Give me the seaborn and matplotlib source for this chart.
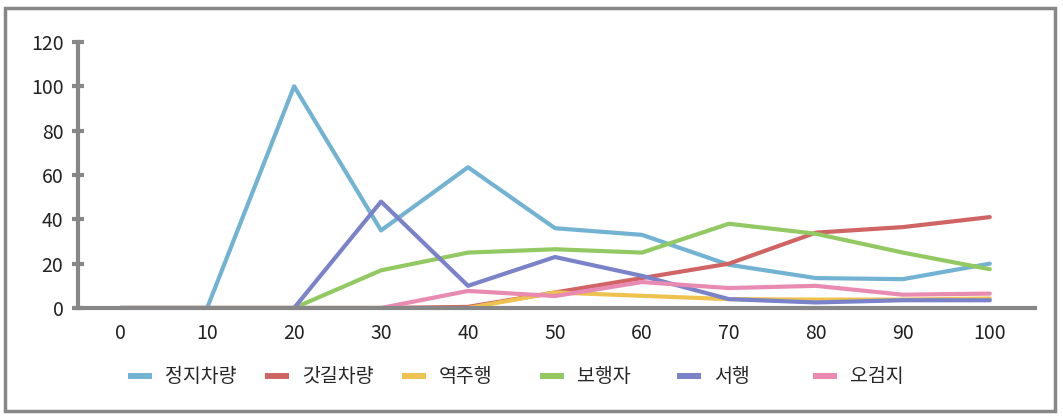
import matplotlib
matplotlib.use("Agg")
import matplotlib.pyplot as plt
import seaborn as sns
import pandas as pd
from matplotlib.patches import Rectangle

x_vals = [0, 10, 20, 30, 40, 50, 60, 70, 80, 90, 100]
series_names = ["정지차량", "갓길차량", "역주행", "보행자", "서행", "오검지"]
stop_vehicle = [0, 0, 100, 35, 63.5, 36, 33, 19.5, 13.5, 13, 20]
shoulder_vehicle = [0, 0, 0, 0, 0.5, 7, 13.5, 20, 34, 36.5, 41]
wrong_way = [0, 0, 0, 0, 0, 7, 5.5, 4, 3.8, 3.8, 4.3]
pedestrian = [0, 0, 0, 17, 25, 26.5, 25, 38, 33.5, 25, 17.5]
slow = [0, 0, 0, 48, 10, 23, 14.5, 4, 2.5, 3.5, 3.5]
false_detect = [0, 0, 0, 0, 7.7, 5.4, 11.7, 9, 10, 6, 6.5]
colors = ["#72B2D2", "#D06464", "#EEC24E", "#92C962", "#7A82CA", "#E88AB2"]

all_series = [stop_vehicle, shoulder_vehicle, wrong_way, pedestrian, slow, false_detect]
df = pd.DataFrame({
    "x": x_vals * len(series_names),
    "y": [v for s in all_series for v in s],
    "series": [n for n in series_names for _ in x_vals],
})

sns.set_theme(style="white")
plt.rcParams["font.family"] = ["Noto Sans CJK KR", "DejaVu Sans"]

fig = plt.figure(figsize=(10.63, 4.2), dpi=100)
ax = fig.add_axes([78 / 1063, 1 - 308 / 420, (1035 - 78) / 1063, (308 - 42) / 420])

sns.lineplot(data=df, x="x", y="y", hue="series", hue_order=series_names,
             palette=colors, linewidth=3, ax=ax, legend=True)

ax.set_xlim(-4.85, 105.2)
ax.set_ylim(0, 120)
ax.set_xticks(x_vals)
ax.set_yticks([0, 20, 40, 60, 80, 100, 120])
ax.set_xlabel("")
ax.set_ylabel("")
for s in ["top", "right"]:
    ax.spines[s].set_visible(False)
for s in ["left", "bottom"]:
    ax.spines[s].set_color("#878787")
    ax.spines[s].set_linewidth(3)
ax.tick_params(axis="y", which="major", direction="inout", length=9, width=3,
               color="#878787", labelsize=14, pad=6, left=True)
ax.tick_params(axis="x", length=0, labelsize=14, pad=11)
for lbl in ax.get_xticklabels() + ax.get_yticklabels():
    lbl.set_color("#222222")

handles, labels = ax.get_legend_handles_labels()
ax.legend_.remove()
handle_x = [128, 265, 402, 540, 677, 813]
for h, lab, hx in zip(handles, labels, handle_x):
    h.set_linewidth(4.3)
    h.set_solid_capstyle("butt")
    fig.legend([h], [lab], loc="center left", bbox_to_anchor=(hx / 1063, 1 - 377 / 420),
               frameon=False, fontsize=14, handlelength=1.24, handletextpad=0.67,
               borderpad=0, borderaxespad=0)

fig.patches.append(Rectangle((5 / 1063, 1 - 411 / 420), 1050 / 1063, 403 / 420,
                             transform=fig.transFigure, fill=False,
                             edgecolor="#878787", linewidth=2.5))

fig.savefig("out.png", dpi=100)
